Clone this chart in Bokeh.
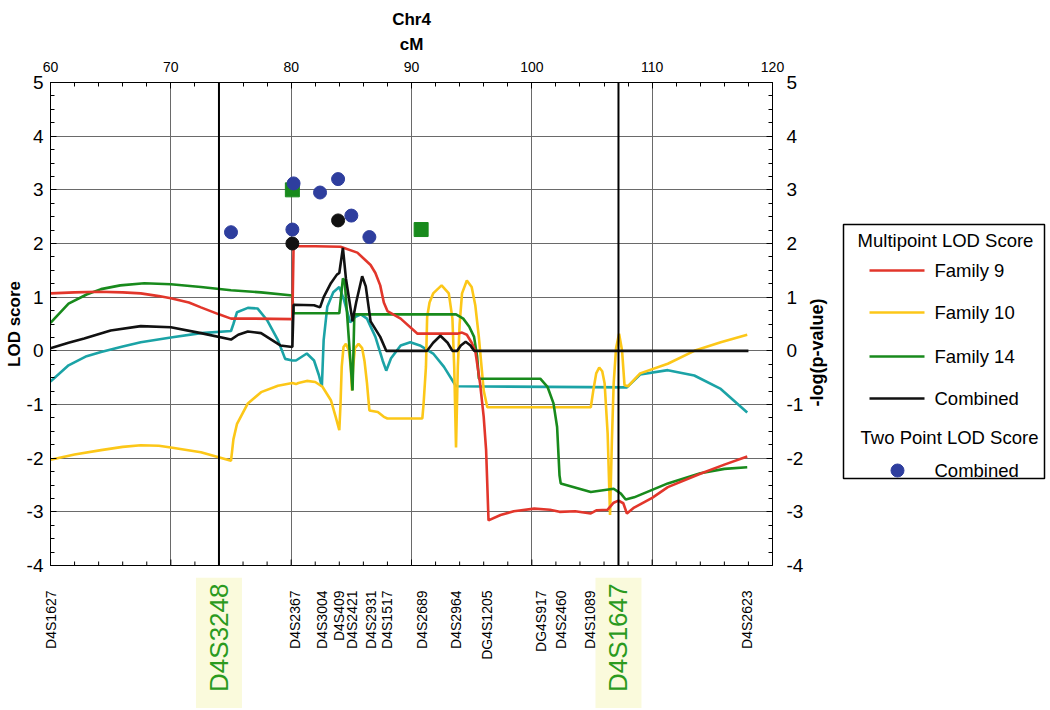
import math
from bokeh.plotting import figure
from bokeh.models import Range1d, LinearAxis, SingleIntervalTicker, Span, CustomJSTickFormatter
from bokeh.layouts import row, column
from bokeh.embed import file_html
from bokeh.resources import INLINE
from bokeh.core.properties import value

FONT = "Liberation Sans"

# ---------------- data ----------------
fam9_x = [60, 62, 64, 66, 67.5, 69, 70, 71.5, 72.5, 74, 75, 77, 80.1, 80.2, 82, 84.1, 85.5, 86.6, 87.0, 87.4,
          87.7, 88.0, 89.1, 90.5, 93.8, 94.2, 94.6, 95.0, 95.3, 95.7, 96.0, 96.2, 96.3, 96.4, 97.4, 98.5,
          100.2, 101.5, 102.3, 103.6, 104.9, 105.4, 106.3, 106.8, 107.2, 107.6, 107.9, 108.5, 110.0, 111.3,
          114.0, 116.0, 117.9]
fam9_y = [1.07, 1.09, 1.10, 1.09, 1.07, 1.02, 0.98, 0.90, 0.81, 0.68, 0.60, 0.60, 0.59, 1.95, 1.95, 1.94,
          1.83, 1.60, 1.45, 1.22, 0.90, 0.74, 0.60, 0.32, 0.32, 0.34, 0.30, 0.15, 0.0, -0.61, -1.23, -1.85,
          -2.5, -3.16, -3.06, -2.99, -2.94, -2.96, -3.0, -2.99, -3.03, -2.97, -2.96, -2.83, -2.79, -2.84,
          -3.03, -2.92, -2.74, -2.54, -2.29, -2.12, -1.97]

fam10_x = [60, 62, 64.2, 66, 67.5, 69, 70, 72.5, 75.0, 75.2, 75.5, 76.4, 77.5, 78.9, 80.1, 80.4, 80.6,
           81.3, 82.0, 82.6, 83.3, 83.7, 84.0, 84.1, 84.2, 84.35, 84.55, 84.8, 84.95, 85.05, 85.15, 85.3,
           85.6, 85.9, 86.1, 86.3, 86.5, 87.2, 87.7, 88.0, 90.9, 91.0, 91.2, 91.3, 91.5, 91.8, 92.5, 93.1,
           93.4, 93.55, 93.7, 93.85, 94.0, 94.2, 94.6, 95.0, 95.3, 95.6, 96.0, 96.3, 104.9, 105.1, 105.35,
           105.6, 105.85, 106.05, 106.3, 106.5, 106.65, 106.8, 107.0, 107.25, 107.5, 107.7, 108.0, 109.0,
           111.3, 113.5, 115.7, 117.9]
fam10_y = [-2.03, -1.93, -1.85, -1.79, -1.76, -1.77, -1.80, -1.89, -2.05, -1.65, -1.36, -0.98, -0.77,
           -0.65, -0.60, -0.62, -0.60, -0.56, -0.58, -0.67, -0.92, -1.23, -1.48, -1.0, -0.3, 0.07, 0.13,
           0.0, -0.3, -0.74, -0.3, 0.05, 0.13, 0.05, -0.2, -0.6, -1.11, -1.14, -1.23, -1.26, -1.26, -1.0,
           -0.3, 0.63, 0.9, 1.07, 1.22, 1.07, 0.6, -0.3, -1.8, -0.3, 0.5, 1.07, 1.31, 1.19, 0.85, 0.25,
           -0.74, -1.05, -1.05, -0.75, -0.42, -0.31, -0.38, -0.61, -1.54, -3.06, -1.7, -0.61, 0.05, 0.32,
           0.0, -0.64, -0.66, -0.42, -0.24, 0.0, 0.16, 0.30]

fam14_x = [60, 61.5, 63, 64.2, 65.8, 67.8, 70, 72.5, 75, 77.5, 80.1, 80.2, 84.0, 84.3, 84.45, 85.1, 85.25,
           93.7, 94.3, 94.8, 95.2, 95.45, 95.6, 100.7, 101.3, 101.8, 102.1, 102.3, 102.4, 104.9, 106.8,
           107.4, 107.8, 108.5, 111.3, 114.0, 116.0, 117.9]
fam14_y = [0.52, 0.88, 1.05, 1.15, 1.22, 1.26, 1.24, 1.19, 1.13, 1.09, 1.03, 0.70, 0.70, 1.35, 1.30, -0.74,
           0.68, 0.68, 0.60, 0.45, 0.26, -0.1, -0.52, -0.52, -0.67, -0.98, -1.42, -2.32, -2.47, -2.63,
           -2.57, -2.66, -2.77, -2.73, -2.47, -2.28, -2.20, -2.17]

comb_x = [60, 61.5, 62.8, 65, 67.5, 70, 72.5, 75, 75.6, 76.4, 77.5, 79.1, 80.1, 80.2, 81.9, 82.4, 82.7,
          83.3, 83.8, 84.0, 84.3, 84.55, 85.1, 85.4, 85.9, 86.2, 86.6, 87.4, 87.9, 91.3, 91.8, 92.4, 93.0,
          93.4, 93.8, 94.1, 94.5, 94.9, 95.2, 118.0]
comb_y = [0.05, 0.15, 0.23, 0.38, 0.46, 0.44, 0.33, 0.21, 0.30, 0.36, 0.33, 0.10, 0.07, 0.86, 0.85, 0.81,
          1.0, 1.26, 1.42, 1.45, 1.92, 1.35, 0.55, 0.9, 1.39, 1.2, 0.55, 0.26, 0.0, 0.0, 0.15, 0.28, 0.15,
          0.0, 0.0, 0.1, 0.17, 0.1, 0.0, 0.0]

cyan_x = [60, 61.5, 63, 64.2, 66, 67.5, 70, 72.5, 75, 75.2, 75.5, 76.4, 77.2, 78, 78.9, 79.5, 80.1, 80.4,
          81.3, 81.9, 82.3, 82.55, 82.7, 83.0, 83.5, 84.0, 84.4, 84.9, 85.3, 85.8, 86.3, 87.0, 87.6, 87.9,
          88.3, 89.1, 89.9, 90.7, 91.8, 92.7, 93.7, 107.9, 109.0, 111.3, 113.5, 115.7, 117.9]
cyan_y = [-0.57, -0.27, -0.10, -0.02, 0.08, 0.16, 0.25, 0.33, 0.37, 0.50, 0.72, 0.80, 0.79, 0.57, 0.20,
          -0.15, -0.18, -0.18, -0.05, -0.18, -0.45, -0.67, 0.20, 0.82, 1.09, 1.19, 0.94, 0.53, 0.63, 0.68,
          0.60, 0.26, -0.18, -0.37, -0.14, 0.10, 0.16, 0.10, -0.05, -0.30, -0.66, -0.68, -0.44, -0.36,
          -0.46, -0.71, -1.15]

twopt_x = [75.0, 80.2, 80.1, 82.4, 83.9, 85.0, 86.5]
twopt_y = [2.21, 3.12, 2.26, 2.95, 3.20, 2.52, 2.12]
black_pt_x = [80.1, 83.9]
black_pt_y = [2.00, 2.43]
green_sq_x = [80.1, 90.8]
green_sq_y = [3.00, 2.26]

markers = ["D4S1627", "D4S2367", "D4S3004", "D4S409", "D4S2421", "D4S2931", "D4S1517", "D4S2689",
           "D4S2964", "DG4S1205", "DG4S917", "D4S2460", "D4S1089", "D4S2623"]
marker_cm = [60.0, 80.3, 82.55, 83.95, 85.05, 86.6, 87.95, 90.9, 93.7, 96.3, 100.8, 102.45, 104.8, 117.85]
flank_markers = ["D4S3248", "D4S1647"]
flank_cm = [74.0, 107.2]

legend_series = ["Family 9", "Family 10", "Family 14", "Combined"]

# ---------------- styling ----------------
RED, YEL, GRN, BLK, CYN, BLU = "#e2362b", "#fcc718", "#188a1c", "#111111", "#1ba3a6", "#2e3e9e"
LW = 2.6
PX_PER_CM = 722.0 / 60.0
PX_PER_LOD = 483.0 / 9.0
MAIN_W = 806          # frame 50..772 plus right tick labels
MAIN_H = 577          # frame 82..565 plus a small bottom border
STRIP_H = 131         # page rows 577..708
TOTAL_H = MAIN_H + STRIP_H
RIGHT_X = 806         # left edge of the right-hand panel on the page

# ---------------- main chart ----------------
p = figure(width=MAIN_W, height=MAIN_H, x_range=Range1d(60, 120), y_range=Range1d(-4, 5),
           x_axis_location="above", output_backend="svg", toolbar_location=None,
           min_border_left=50, min_border_right=MAIN_W - 772, min_border_top=82,
           min_border_bottom=MAIN_H - 565)
p.outline_line_color = "black"
p.outline_line_width = 1
p.border_fill_color = "white"

p.title.text = "Chr4"
p.title.align = "center"
p.title.text_font = FONT
p.title.text_font_size = "17px"
p.title.text_font_style = "bold"
p.title.text_color = "black"
p.title.text_line_height = 1.0
p.title.standoff = 6

xt = SingleIntervalTicker(interval=10, num_minor_ticks=5)
yt = SingleIntervalTicker(interval=1, num_minor_ticks=4)
plain = CustomJSTickFormatter(code="return tick.toFixed(0);")

def style_axis(ax, size):
    ax.axis_line_color = "black"
    ax.major_tick_in = 6
    ax.major_tick_out = 0
    ax.minor_tick_in = 4
    ax.minor_tick_out = 0
    ax.major_tick_line_color = "black"
    ax.minor_tick_line_color = "black"
    ax.major_label_text_font = FONT
    ax.major_label_text_font_size = size
    ax.major_label_text_color = "black"
    ax.major_label_text_line_height = 1.0
    ax.axis_label_text_font = FONT
    ax.axis_label_text_font_style = "bold"
    ax.axis_label_text_font_size = "17px"
    ax.axis_label_text_color = "black"
    ax.axis_label_text_line_height = 1.0

top = p.xaxis[0]
top.ticker = xt
style_axis(top, "14px")
top.major_label_standoff = 11
top.axis_label = "cM"
top.axis_label_standoff = 5

left = p.yaxis[0]
left.ticker = yt
left.formatter = plain
style_axis(left, "19px")
left.major_label_standoff = 7
left.axis_label = "LOD score"
left.axis_label_standoff = 0

right = LinearAxis(ticker=yt, formatter=plain)
style_axis(right, "19px")
right.major_label_standoff = 14
p.add_layout(right, "right")

p.xgrid.ticker = xt
p.ygrid.ticker = yt
p.grid.grid_line_color = "#6a6a6a"
p.grid.grid_line_width = 1

# bottom-edge tick marks (inside the frame)
bt = list(range(62, 120, 2))
bt_len = [6 if t % 10 == 0 else 4 for t in bt]
p.segment(x0=bt, y0=[-4] * len(bt), x1=bt, y1=[-4 + l / PX_PER_LOD for l in bt_len],
          line_color="black", line_width=1)

for loc in flank_cm:
    p.add_layout(Span(location=loc, dimension="height", line_color="black", line_width=2))

p.line(cyan_x, cyan_y, line_color=CYN, line_width=LW)
p.line(fam10_x, fam10_y, line_color=YEL, line_width=LW)
p.line(fam14_x, fam14_y, line_color=GRN, line_width=LW)
p.line(fam9_x, fam9_y, line_color=RED, line_width=LW)
p.line(comb_x, comb_y, line_color=BLK, line_width=LW)

p.scatter(green_sq_x, green_sq_y, marker="square", size=14, fill_color=GRN, line_color=GRN)
p.scatter(black_pt_x, black_pt_y, marker="circle", size=13, fill_color=BLK, line_color=BLK)
p.scatter(twopt_x, twopt_y, marker="circle", size=13, fill_color=BLU, line_color=BLU)

# ---------------- marker strip below the chart ----------------
m = figure(width=MAIN_W, height=STRIP_H,
           x_range=Range1d(60 - 50 / PX_PER_CM, 60 + (MAIN_W - 50) / PX_PER_CM),
           y_range=Range1d(-TOTAL_H, -MAIN_H),
           x_axis_location=None, y_axis_location=None, output_backend="svg", toolbar_location=None,
           min_border=0, min_border_left=0, min_border_right=0, min_border_top=0, min_border_bottom=0)
m.outline_line_color = None
m.grid.visible = False
half = 23 / PX_PER_CM
m.quad(left=[c - half for c in flank_cm], right=[c + half for c in flank_cm],
       top=[-MAIN_H] * 2, bottom=[-TOTAL_H] * 2, fill_color="#fafadc", line_color=None)
m.text(x=marker_cm, y=[-590] * len(marker_cm), text=markers, angle=math.pi / 2,
       text_font=value(FONT), text_font_size="14px", text_align="right", text_baseline="middle",
       text_color="black")
m.text(x=flank_cm, y=[-583] * 2, text=flank_markers, angle=math.pi / 2,
       text_font=value(FONT), text_font_size="26px", text_align="right", text_baseline="middle",
       text_color="#2b9a1e")

# ---------------- right panel: right axis title + legend ----------------
LEG_W = 1048 - RIGHT_X
lg = figure(width=LEG_W, height=TOTAL_H, x_range=Range1d(RIGHT_X, 1048), y_range=Range1d(-TOTAL_H, 0),
            x_axis_location=None, y_axis_location=None, output_backend="svg", toolbar_location=None,
            min_border=0, min_border_left=0, min_border_right=0, min_border_top=0, min_border_bottom=0)
lg.outline_line_color = None
lg.grid.visible = False

lg.text(x=[816], y=[-352], text=["-log(p-value)"], angle=math.pi / 2, text_font=value(FONT),
        text_font_style="bold", text_font_size="18px", text_align="center", text_baseline="middle")

lg.quad(left=[843], right=[1044], top=[-224], bottom=[-478], fill_color=None, line_color="black",
        line_width=1.5)
leg_y = [-270, -312, -356, -398]
lg.segment(x0=[869] * 4, y0=leg_y, x1=[924] * 4, y1=leg_y, line_color=[RED, YEL, GRN, BLK], line_width=LW)
lg.text(x=[934] * 4, y=leg_y, text=legend_series, text_font=value(FONT), text_font_size="18.5px",
        text_baseline="middle", text_align="left")
lg.text(x=[945, 949], y=[-240, -437], text=["Multipoint LOD Score", "Two Point LOD Score"],
        text_font=value(FONT), text_font_size="18.5px", text_baseline="middle", text_align="center")
lg.scatter(x=[897], y=[-470], marker="circle", size=13, fill_color=BLU, line_color=BLU)
lg.text(x=[934], y=[-470], text=["Combined"], text_font=value(FONT), text_font_size="18.5px",
        text_baseline="middle", text_align="left")

layout = row(column(p, row(m)), lg)
open("out.html", "w").write(file_html(layout, INLINE))
